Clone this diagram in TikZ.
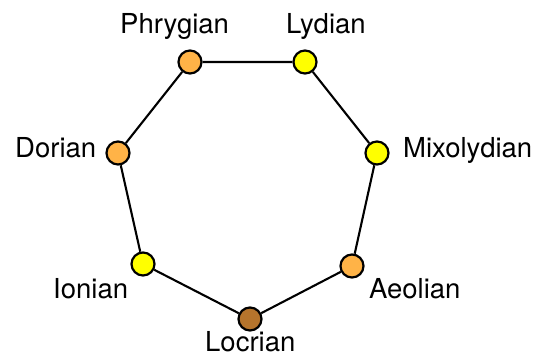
\documentclass[tikz,border=0pt]{standalone}
\usepackage{fontspec}
\setmainfont{TeX Gyre Heros}
\definecolor{modeorange}{HTML}{FFB347}
\definecolor{modeyellow}{HTML}{FFFF00}
\definecolor{modebrown}{HTML}{B5742C}
\begin{document}
\begin{tikzpicture}[x=1pt,y=-1pt,
  mode/.style={circle,draw=black,line width=2.2pt,minimum size=23pt,inner sep=0pt},
  lbl/.style={anchor=base west,inner sep=0pt,font=\fontsize{27.5}{30}\selectfont},
  edge/.style={line width=2.1pt}]
\useasboundingbox (0,0) rectangle (541,364);
% modes around the heptagon
\node[mode,fill=modeorange] (phr) at (190,62) {};
\node[mode,fill=modeyellow] (lyd) at (305,62) {};
\node[mode,fill=modeyellow] (mix) at (377,153) {};
\node[mode,fill=modeorange] (aeo) at (352,266) {};
\node[mode,fill=modebrown]  (loc) at (250,319) {};
\node[mode,fill=modeyellow] (ion) at (143,264) {};
\node[mode,fill=modeorange] (dor) at (118,153) {};
% sides
\draw[edge] (phr) -- (lyd) -- (mix) -- (aeo) -- (loc) -- (ion) -- (dor) -- (phr);
% names
\node[lbl] (tphr) at (120,33) {Phrygian};
\node[lbl] (tlyd) at (286,33) {Lydian};
\node[lbl] (tmix) at (403,157) {Mixolydian};
\node[lbl] (taeo) at (369,298) {Aeolian};
\node[lbl] (tloc) at (205,351) {Locrian};
\node[lbl] (tion) at (53,298) {Ionian};
\node[lbl] (tdor) at (15,157) {Dorian};
\end{tikzpicture}
\end{document}
